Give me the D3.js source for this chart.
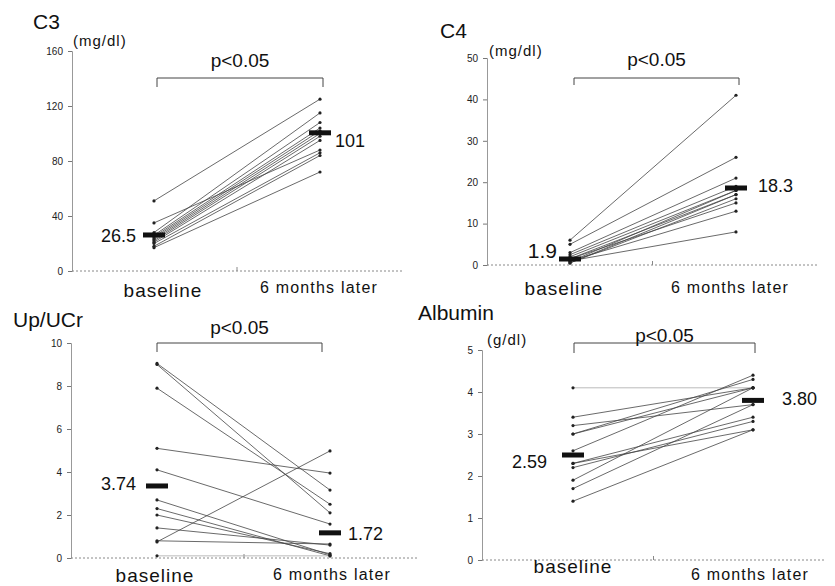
<!DOCTYPE html>
<html>
<head>
<meta charset="utf-8">
<script src="https://cdn.jsdelivr.net/npm/d3@7"></script>
<style>
  body { margin: 0; background: #fff; }
  text { font-family: "Liberation Sans", Arial, sans-serif; fill: #111; }
  .tick text { font-family: "Liberation Sans Narrow", "Liberation Sans", Arial, sans-serif; font-size: 10px; fill: #222; }
</style>
</head>
<body>
<div id="chart"></div>
<script>
// values, one pair per patient (baseline -> 6 months later)
const groups = ['baseline', '6 months later'];

const c3Base  = [51, 35, 28, 26, 25, 24, 23, 22, 21, 20, 18, 17];
const c3Later = [125, 88, 115, 108, 104, 102, 100, 98, 95, 86, 84, 72];
const c3Ticks = [0, 40, 80, 120, 160];
const c3Mean  = [26.2, 100.5];
const c3Labels = ['26.5', '101'];

const c4Base  = [6, 5, 3, 2.5, 2, 1.5, 1.5, 1, 1, 0.8, 0.5, 0.5];
const c4Later = [41, 26, 21, 19, 18, 17, 15, 13, 8, 18, 17, 16];
const c4Ticks = [0, 10, 20, 30, 40, 50];
const c4Mean  = [1.45, 18.6];
const c4Labels = ['1.9', '18.3'];

const upBase  = [9.05, 9.0, 7.9, 5.1, 4.1, 2.7, 2.3, 2.0, 1.4, 0.8, 0.75, 0.1];
const upLater = [3.16, 2.1, 2.5, 3.95, 1.58, 0.15, 0.1, 0.2, 0.6, 0.65, 4.98, 0.1];
const upTicks = [0, 2, 4, 6, 8, 10];
const upMean  = [3.35, 1.17];
const upLabels = ['3.74', '1.72'];

const albBase  = [4.1, 3.4, 3.2, 3.0, 3.0, 2.6, 2.3, 2.3, 2.2, 1.9, 1.7, 1.4];
const albLater = [4.1, 4.1, 3.7, 4.3, 4.1, 4.4, 3.4, 3.1, 3.3, 4.1, 3.7, 3.1];
const albTicks = [0, 1, 2, 3, 4, 5];
const albMean  = [2.5, 3.8];
const albLabels = ['2.59', '3.80'];

const svg = d3.select('#chart').append('svg')
    .attr('width', 835)
    .attr('height', 586);

// layout of each panel in pixels
const panels = [
  { title: 'C3', unit: '(mg/dl)', base: c3Base, later: c3Later, ticks: c3Ticks, mean: c3Mean, labels: c3Labels,
    ax: 72, y0: 271, y1: 51, xs: [154, 320], xEnd: 402,
    titlePos: [33, 29], unitPos: [73, 46], pY: 67, br: [157, 323, 78, 87],
    catY: [297, 293], catX: [163, 319], meanLab: [[136, 242, 18], [335, 147, 18]] },
  { title: 'C4', unit: '(mg/dl)', base: c4Base, later: c4Later, ticks: c4Ticks, mean: c4Mean, labels: c4Labels,
    ax: 487, y0: 265, y1: 58, xs: [570, 736], xEnd: 818,
    titlePos: [440, 38], unitPos: [489, 56], pY: 66, br: [574, 739, 78, 85],
    catY: [295, 293], catX: [564, 730], meanLab: [[557, 258, 21], [758, 192, 18]] },
  { title: 'Up/UCr', unit: '', base: upBase, later: upLater, ticks: upTicks, mean: upMean, labels: upLabels,
    ax: 71, y0: 558, y1: 343, xs: [157, 330], xEnd: 417,
    titlePos: [13, 327], unitPos: [0, 0], pY: 334, br: [157, 322, 343, 352],
    catY: [582, 580], catX: [155, 332], meanLab: [[136, 490, 18], [348, 540, 18]] },
  { title: 'Albumin', unit: '(g/dl)', base: albBase, later: albLater, ticks: albTicks, mean: albMean, labels: albLabels,
    ax: 482, y0: 560, y1: 350, xs: [573, 753], xEnd: 825,
    titlePos: [418, 320], unitPos: [487, 345], pY: 342, br: [574, 755, 343, 353],
    catY: [573, 580], catX: [573, 750], meanLab: [[547, 468, 18], [782, 405, 18]] }
];

panels.forEach(p => {
  const g = svg.append('g');
  const y = d3.scaleLinear()
      .domain([0, p.ticks[p.ticks.length - 1]])
      .range([p.y0, p.y1]);
  const x = d3.scalePoint().domain(groups).range(p.xs);

  // y axis
  const yAxis = g.append('g')
      .attr('transform', `translate(${p.ax},0)`)
      .call(d3.axisLeft(y).tickValues(p.ticks).tickFormat(d => d).tickSize(4).tickPadding(5));
  yAxis.select('.domain').attr('stroke', '#999');
  yAxis.selectAll('.tick line').attr('stroke', '#777');

  // x axis, dotted
  g.append('line')
      .attr('x1', p.ax).attr('x2', p.xEnd)
      .attr('y1', y(0)).attr('y2', y(0))
      .attr('stroke', '#888')
      .attr('stroke-dasharray', '2,2');
  g.append('line')
      .attr('x1', (p.ax + p.xEnd) / 2).attr('x2', (p.ax + p.xEnd) / 2)
      .attr('y1', y(0)).attr('y2', y(0) - 4)
      .attr('stroke', '#888');

  // patient lines
  const pairs = p.base.map((b, i) => [b, p.later[i]]);
  g.selectAll('line.pat')
    .data(pairs)
    .enter()
    .append('line')
      .attr('class', 'pat')
      .attr('x1', x(groups[0])).attr('x2', x(groups[1]))
      .attr('y1', d => y(d[0])).attr('y2', d => y(d[1]))
      .attr('stroke', d => d[0] === d[1] ? '#aaa' : '#444')
      .attr('stroke-width', 0.8);

  groups.forEach((grp, k) => {
    g.selectAll('circle.p' + k)
      .data(pairs)
      .enter()
      .append('circle')
        .attr('cx', x(grp))
        .attr('cy', d => y(d[k]))
        .attr('r', 1.6)
        .style('fill', '#222');
  });

  // mean bars
  g.selectAll('rect.mean')
    .data(p.mean)
    .enter()
    .append('rect')
      .attr('x', (d, i) => x(groups[i]) - 11)
      .attr('y', d => y(d) - 2.5)
      .attr('width', 22)
      .attr('height', 5)
      .style('fill', '#111');

  g.selectAll('text.meanlab')
    .data(p.labels)
    .enter()
    .append('text')
      .attr('x', (d, i) => p.meanLab[i][0])
      .attr('y', (d, i) => p.meanLab[i][1])
      .attr('text-anchor', (d, i) => i === 0 ? 'end' : 'start')
      .style('font-size', (d, i) => p.meanLab[i][2] + 'px')
      .text(d => d);

  // bracket + p value
  const [bx1, bx2, bt, bb] = p.br;
  g.append('path')
      .attr('d', `M${bx1},${bb}V${bt}H${bx2}V${bb}`)
      .attr('fill', 'none')
      .attr('stroke', '#444')
      .attr('stroke-width', 1);
  g.append('text')
      .attr('x', (bx1 + bx2) / 2)
      .attr('y', p.pY)
      .attr('text-anchor', 'middle')
      .style('font-size', '19px')
      .text('p<0.05');

  // titles
  g.append('text')
      .attr('x', p.titlePos[0]).attr('y', p.titlePos[1])
      .style('font-size', '21px')
      .text(p.title);
  if (p.unit) {
    g.append('text')
        .attr('x', p.unitPos[0]).attr('y', p.unitPos[1])
        .style('font-size', '15px')
        .style('letter-spacing', '1px')
        .text(p.unit);
  }

  // category labels
  g.selectAll('text.cat')
    .data(groups)
    .enter()
    .append('text')
      .attr('x', (d, i) => p.catX[i])
      .attr('y', (d, i) => p.catY[i])
      .attr('text-anchor', 'middle')
      .style('font-size', (d, i) => i === 0 ? '19px' : '16px')
      .style('letter-spacing', (d, i) => i === 0 ? '1px' : '1.2px')
      .text(d => d);
});
</script>
</body>
</html>
